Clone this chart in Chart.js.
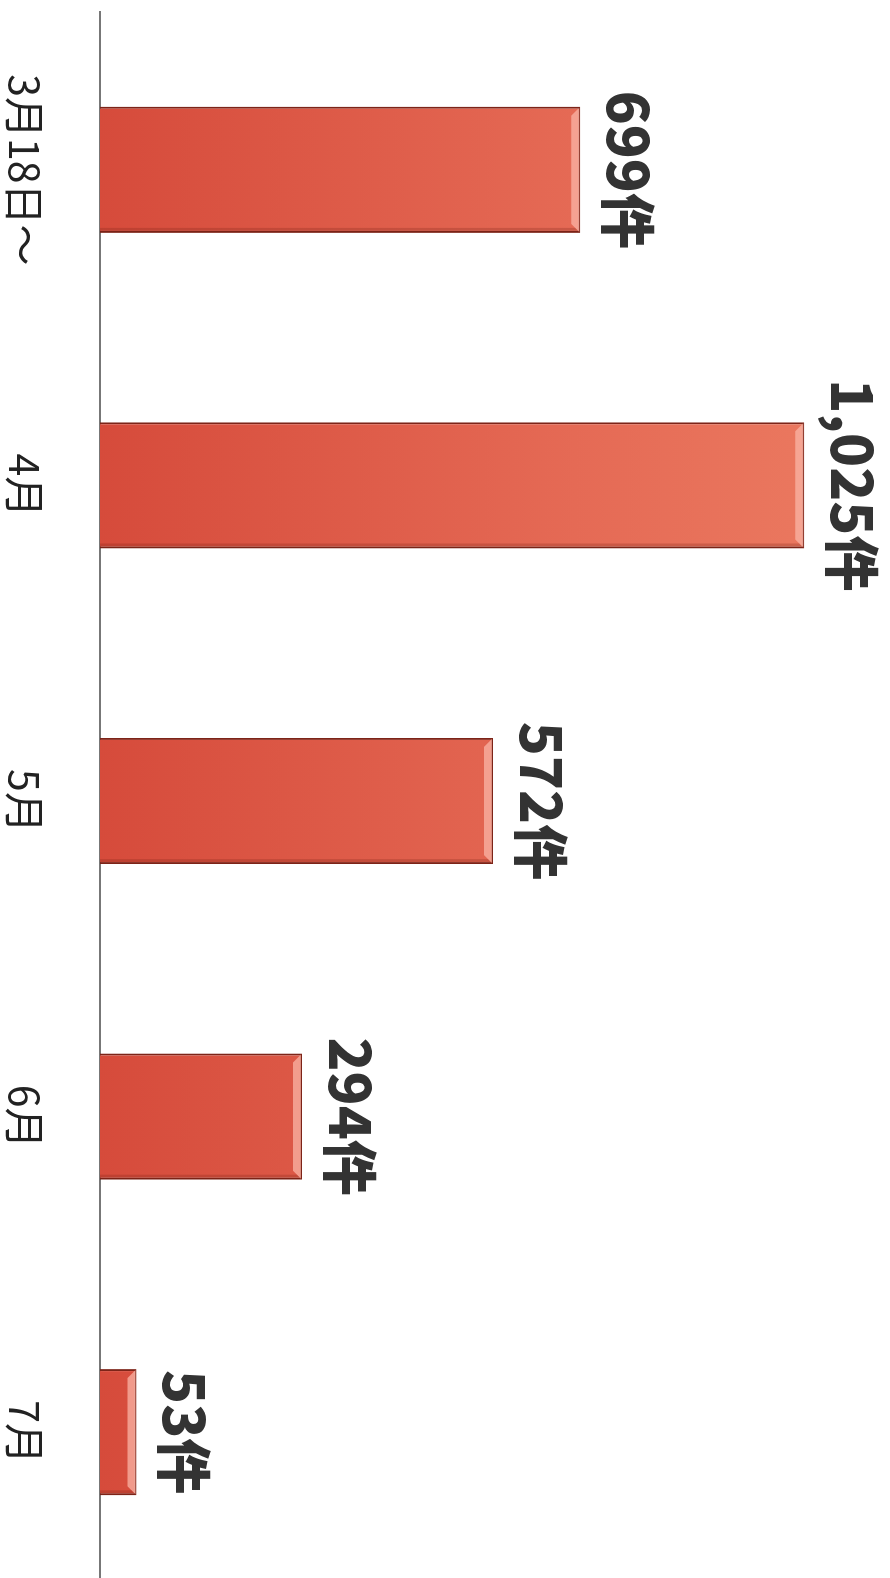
<!DOCTYPE html>
<html lang="ja">
<head>
<meta charset="utf-8">
<title>件数</title>
<script src="https://cdn.jsdelivr.net/npm/chart.js@4.4.1/dist/chart.umd.min.js"></script>
<style>
    html, body { margin: 0; padding: 0; background: #fff; }
    #wrap { position: relative; width: 890px; height: 1578px; overflow: hidden; }
    /* the chart is drawn upright, then turned a quarter clockwise like the scan */
    #count_chart {
        position: absolute; left: 0; top: 0;
        transform-origin: 0 0;
        transform: translateX(890px) rotate(90deg);
    }
</style>
</head>
<body>
<div id="wrap">
    <canvas id="count_chart" width="1600" height="890"></canvas>
</div>
<script>
var categories = ["3月18日〜", "4月", "5月", "6月", "7月"];
var counts = [699, 1025, 572, 294, 53];
var unitLabel = "件";
var valueMax = 1150;

// value labels above each bar ("699件")
var countLabels = {
    id: "countLabels",
    afterDatasetsDraw: function(chart) {
        let ctx = chart.ctx;
        let meta = chart.getDatasetMeta(0);
        ctx.save();
        ctx.fillStyle = "#333333";
        ctx.font = "900 56px 'Noto Sans CJK JP', sans-serif";
        ctx.textAlign = "center";
        ctx.textBaseline = "alphabetic";
        meta.data.forEach(function(bar, i) {
            let txt = counts[i].toLocaleString("en-US") + unitLabel;
            ctx.fillText(txt, bar.x, bar.y - 27);
        });
        ctx.restore();
    }
};

// light bevel at the end of each bar
var barBevel = {
    id: "barBevel",
    afterDatasetsDraw: function(chart) {
        let ctx = chart.ctx;
        let meta = chart.getDatasetMeta(0);
        ctx.save();
        meta.data.forEach(function(bar) {
            let w = bar.width;
            let l = bar.x - w / 2 + 1, r = bar.x + w / 2 - 1;
            let t = bar.y + 1, b = 8;
            ctx.fillStyle = "rgba(250, 180, 165, 0.75)";
            ctx.beginPath();
            ctx.moveTo(l, t);
            ctx.lineTo(r, t);
            ctx.lineTo(r - b, t + b);
            ctx.lineTo(l + b, t + b);
            ctx.closePath();
            ctx.fill();
            // shade on the far side
            ctx.fillStyle = "rgba(120, 30, 20, 0.25)";
            ctx.beginPath();
            ctx.moveTo(r, t);
            ctx.lineTo(r, bar.base);
            ctx.lineTo(r - 4, bar.base);
            ctx.lineTo(r - 4, t + 4);
            ctx.closePath();
            ctx.fill();
        });
        ctx.restore();
    }
};

function barFill(context) {
    let area = context.chart.chartArea;
    if (!area) {
        return "#de5a45";
    }
    let g = context.chart.ctx.createLinearGradient(0, area.bottom, 0, area.top);
    g.addColorStop(0, "#d64b3b");
    g.addColorStop(0.6, "#e56a55");
    g.addColorStop(1, "#ec7c62");
    return g;
}

new Chart("count_chart", {
    type: "bar",
    data: {
        labels: categories,
        datasets: [{
            label: "件数",
            data: counts,
            backgroundColor: barFill,
            borderColor: "#7d2418",
            borderWidth: 2,
            categoryPercentage: 1,
            barPercentage: 0.4,
        }]
    },
    options: {
        responsive: false,
        animation: false,
        devicePixelRatio: 1,
        layout: {
            padding: { left: 12, right: 10, top: 0, bottom: 0 }
        },
        plugins: {
            legend: { display: false },
            tooltip: { enabled: false }
        },
        scales: {
            x: {
                grid: { display: false, drawTicks: false },
                border: { display: true, color: "#777777", width: 2 },
                ticks: {
                    color: "#222222",
                    padding: 51,
                    font: { family: "'Noto Sans CJK JP', sans-serif", size: 41, weight: "normal" }
                },
                afterFit: function(scale) {
                    scale.height = 100;
                }
            },
            y: {
                display: false,
                min: 0,
                max: valueMax
            }
        }
    },
    plugins: [barBevel, countLabels]
});
</script>
</body>
</html>
